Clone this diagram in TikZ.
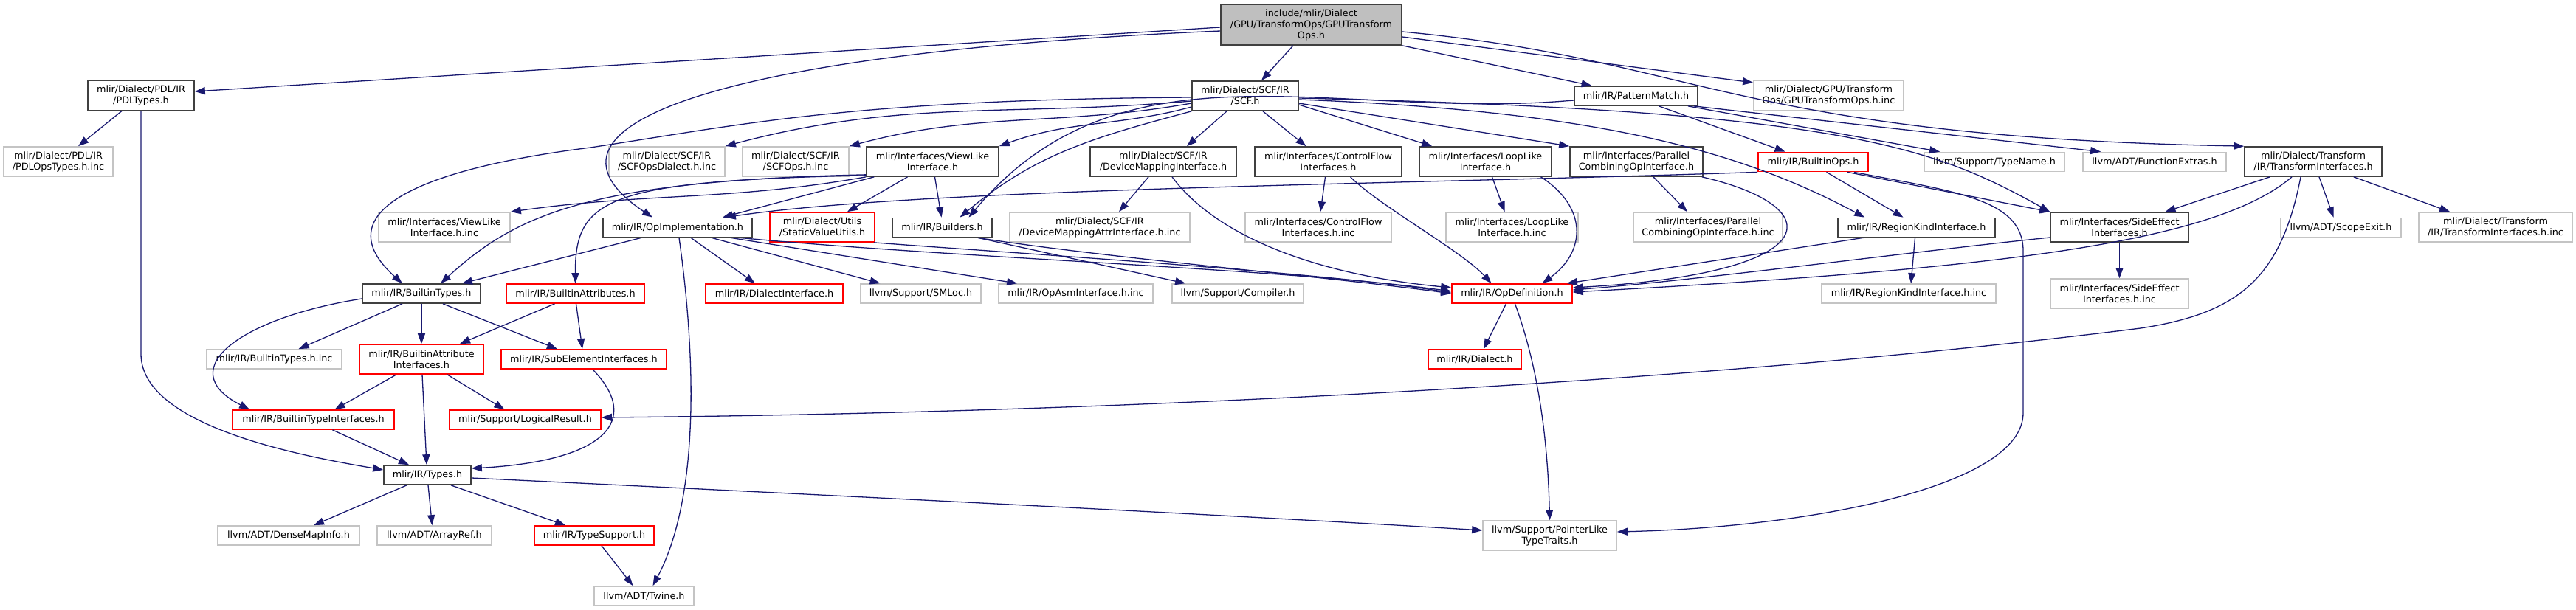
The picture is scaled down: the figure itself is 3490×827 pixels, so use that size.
\documentclass[tikz,border=0pt]{standalone}
\usepackage{fontspec}
\setmainfont{DejaVu Sans}
\usetikzlibrary{arrows.meta}
\definecolor{azulnoche}{HTML}{191970}
\definecolor{gris}{HTML}{404040}
\definecolor{grisclaro}{HTML}{C4C4C4}
\definecolor{rojo}{HTML}{FF0000}
\definecolor{relleno}{HTML}{BFBFBF}

\begin{document}
\begin{tikzpicture}[x=1pt, y=-1pt, font=\fontsize{12.8}{15}\selectfont,
    caja/.style={draw=gris, line width=1.7pt, inner sep=0pt, align=center, minimum height=26pt},
    cajagris/.style={caja, draw=grisclaro},
    cajaroja/.style={caja, draw=rojo},
    doble/.style={minimum height=40pt},
    ancho/.style={minimum width=#1pt},
    flecha/.style={draw=azulnoche, line width=1.3pt, -{Triangle[length=14pt,width=10pt]}}]
    \useasboundingbox (0,0) rectangle (3490,827);

    \node[caja, fill=relleno, ancho=245, minimum height=55pt] (root) at (1776.5,33.5) {include/mlir/Dialect\\/GPU/TransformOps/GPUTransform\\Ops.h};

    \node[caja, doble, ancho=144] (pdltypes) at (191,129.5) {mlir/Dialect/PDL/IR\\/PDLTypes.h};
    \node[caja, doble, ancho=144] (scf) at (1687,130) {mlir/Dialect/SCF/IR\\/SCF.h};
    \node[caja, ancho=167] (patmatch) at (2216.5,130) {mlir/IR/PatternMatch.h};
    \node[cajagris, doble, ancho=203] (gpuinc) at (2477.5,129.5) {mlir/Dialect/GPU/Transform\\Ops/GPUTransformOps.h.inc};

    \node[cajagris, doble, ancho=148] (pdlinc) at (79,219) {mlir/Dialect/PDL/IR\\/PDLOpsTypes.h.inc};
    \node[cajagris, doble, ancho=157] (scfdialectinc) at (903.5,219) {mlir/Dialect/SCF/IR\\/SCFOpsDialect.h.inc};
    \node[cajagris, doble, ancho=144] (scfopsinc) at (1078,219) {mlir/Dialect/SCF/IR\\/SCFOps.h.inc};
    \node[caja, doble, ancho=179] (viewlike) at (1263.5,219) {mlir/Interfaces/ViewLike\\Interface.h};
    \node[caja, doble, ancho=198] (devmap) at (1576,219) {mlir/Dialect/SCF/IR\\/DeviceMappingInterface.h};
    \node[caja, doble, ancho=199] (ctrlflow) at (1799.5,219) {mlir/Interfaces/ControlFlow\\Interfaces.h};
    \node[caja, doble, ancho=179] (looplike) at (2012.5,219) {mlir/Interfaces/LoopLike\\Interface.h};
    \node[caja, doble, ancho=180] (parallel) at (2217,219) {mlir/Interfaces/Parallel\\CombiningOpInterface.h};
    \node[cajaroja, ancho=149] (builtinops) at (2456.5,219.5) {mlir/IR/BuiltinOps.h};
    \node[cajagris, ancho=190] (typename) at (2702,219.5) {llvm/Support/TypeName.h};
    \node[cajagris, ancho=194] (funcextras) at (2919,219.5) {llvm/ADT/FunctionExtras.h};
    \node[caja, doble, ancho=186] (transform) at (3134,219) {mlir/Dialect/Transform\\/IR/TransformInterfaces.h};

    \node[cajagris, doble, ancho=178] (viewlikeinc) at (602,308) {mlir/Interfaces/ViewLike\\Interface.h.inc};
    \node[caja, ancho=202] (opimpl) at (918,308.5) {mlir/IR/OpImplementation.h};
    \node[cajaroja, doble, ancho=142] (staticval) at (1114,308) {mlir/Dialect/Utils\\/StaticValueUtils.h};
    \node[caja, ancho=135] (builders) at (1276.5,308.5) {mlir/IR/Builders.h};
    \node[cajagris, doble, ancho=244] (devmapinc) at (1490,308) {mlir/Dialect/SCF/IR\\/DeviceMappingAttrInterface.h.inc};
    \node[cajagris, doble, ancho=198] (ctrlflowinc) at (1786,308) {mlir/Interfaces/ControlFlow\\Interfaces.h.inc};
    \node[cajagris, doble, ancho=179] (looplikeinc) at (2048.5,308) {mlir/Interfaces/LoopLike\\Interface.h.inc};
    \node[cajagris, doble, ancho=202] (parallelinc) at (2314,308) {mlir/Interfaces/Parallel\\CombiningOpInterface.h.inc};
    \node[caja, ancho=213] (regionkind) at (2596.5,308.5) {mlir/IR/RegionKindInterface.h};
    \node[caja, doble, ancho=187] (sideeffect) at (2871.5,308) {mlir/Interfaces/SideEffect\\Interfaces.h};
    \node[cajagris, ancho=163] (scopeexit) at (3171.5,308.5) {llvm/ADT/ScopeExit.h};
    \node[cajagris, doble, ancho=208] (transforminc) at (3381,308) {mlir/Dialect/Transform\\/IR/TransformInterfaces.h.inc};

    \node[caja, ancho=160] (builtintypes) at (571,398) {mlir/IR/BuiltinTypes.h};
    \node[cajaroja, ancho=187] (builtinattrs) at (779.5,398) {mlir/IR/BuiltinAttributes.h};
    \node[cajaroja, ancho=186] (dialectiface) at (1049,398) {mlir/IR/DialectInterface.h};
    \node[cajagris, ancho=163] (smloc) at (1247.5,398) {llvm/Support/SMLoc.h};
    \node[cajagris, ancho=209] (opasminc) at (1457.5,398) {mlir/IR/OpAsmInterface.h.inc};
    \node[cajagris, ancho=178] (compiler) at (1677,398) {llvm/Support/Compiler.h};
    \node[cajaroja, ancho=163] (opdef) at (2048.5,398) {mlir/IR/OpDefinition.h};
    \node[cajagris, ancho=236] (regionkindinc) at (2586,398) {mlir/IR/RegionKindInterface.h.inc};
    \node[cajagris, doble, ancho=187] (sideeffectinc) at (2871.5,398) {mlir/Interfaces/SideEffect\\Interfaces.h.inc};

    \node[cajagris, ancho=183] (builtintypesinc) at (371.5,487) {mlir/IR/BuiltinTypes.h.inc};
    \node[cajaroja, doble, ancho=168] (battrifaces) at (571,487) {mlir/IR/BuiltinAttribute\\Interfaces.h};
    \node[cajaroja, ancho=224] (subelem) at (791,487) {mlir/IR/SubElementInterfaces.h};
    \node[cajaroja, ancho=126] (dialect) at (1998,487) {mlir/IR/Dialect.h};

    \node[cajaroja, ancho=219] (btypeifaces) at (424.5,569) {mlir/IR/BuiltinTypeInterfaces.h};
    \node[cajaroja, ancho=205] (logicalres) at (711.5,569) {mlir/Support/LogicalResult.h};
    \node[caja, ancho=118] (types) at (579,644) {mlir/IR/Types.h};

    \node[cajagris, ancho=192] (densemap) at (391,726) {llvm/ADT/DenseMapInfo.h};
    \node[cajagris, ancho=155] (arrayref) at (588.5,726) {llvm/ADT/ArrayRef.h};
    \node[cajaroja, ancho=162] (typesupport) at (805,726) {mlir/IR/TypeSupport.h};
    \node[cajagris, doble, ancho=181] (pointerlike) at (2099.5,726) {llvm/Support/PointerLike\\TypeTraits.h};
    \node[cajagris, ancho=135] (twine) at (872.5,808) {llvm/ADT/Twine.h};

    \draw[flecha] ([yshift=-3.5pt]root.west) -- ([yshift=5.5pt]pdltypes.east);
    \draw[flecha] ([xshift=-24.5pt]root.south) -- ([xshift=22pt]scf.north);
    \draw[flecha] ([yshift=-8.5pt]root.west) .. controls (1000,70) and (690,165) .. ([xshift=-34pt]opimpl.north);
    \draw[flecha] (root.south east) -- ([xshift=-60pt]patmatch.north);
    \draw[flecha] ([yshift=-16.5pt]root.east) -- ([yshift=17.5pt]gpuinc.west);
    \draw[flecha] ([yshift=-9.5pt]root.east) .. controls (2300,80) and (2350,185) .. (transform.north west);

    \draw[flecha] ([yshift=-7pt]scf.west) to[out=185,in=15] (scfdialectinc.north east);
    \draw[flecha] ([yshift=-10pt]scf.west) to[out=190,in=15] (scfopsinc.north east);
    \draw[flecha] ([yshift=-15pt]scf.west) to[out=195,in=20] (viewlike.north east);
    \draw[flecha] ([yshift=-2pt]scf.west) .. controls (1150,135) and (1000,170) .. (800,200)
        .. controls (560,230) and (440,290) .. ([xshift=-26pt]builtintypes.north);
    \draw[flecha] (scf.south west) to[out=195,in=40] ([xshift=24pt]builders.north);
    \draw[flecha] ([xshift=-25pt]scf.south) -- ([xshift=32pt]devmap.north);
    \draw[flecha] ([xshift=24pt]scf.south) -- ([xshift=-30pt]ctrlflow.north);
    \draw[flecha] ([yshift=-12pt]scf.east) -- ([xshift=18pt]looplike.north west);
    \draw[flecha] ([yshift=-10pt]scf.east) -- (parallel.north west);
    \draw[flecha] ([yshift=-5pt]scf.east) .. controls (2150,150) and (2350,200) .. ([xshift=37pt]regionkind.north west);
    \draw[flecha] ([yshift=-3pt]scf.east) .. controls (2500,150) and (2620,200) .. (sideeffect.north west);

    \draw[flecha] ([yshift=-6pt]patmatch.west) to[out=185,in=50] ([xshift=36pt]builders.north);
    \draw[flecha] ([xshift=31pt]patmatch.south) -- ([xshift=-38pt]builtinops.north);
    \draw[flecha] ([xshift=-14pt]patmatch.south east) -- ([xshift=22pt]typename.north west);
    \draw[flecha] ([xshift=-6pt]patmatch.south east) -- ([xshift=25pt]funcextras.north west);

    \draw[flecha] (viewlike.south west) to[out=190,in=8] (viewlikeinc.north east);
    \draw[flecha] ([xshift=11pt]viewlike.south west) -- ([xshift=61pt]opimpl.north);
    \draw[flecha] ([xshift=-34pt]viewlike.south) -- ([xshift=34pt]staticval.north);
    \draw[flecha] ([xshift=3pt]viewlike.south) -- ([xshift=-1pt]builders.north);
    \draw[flecha] ([yshift=3pt]viewlike.south west) .. controls (800,245) and (700,290) .. ([xshift=26pt]builtintypes.north);
    \draw[flecha] ([yshift=2pt]viewlike.south west) .. controls (820,245) and (779,270) .. (builtinattrs.north);

    \draw[flecha] ([xshift=-49pt]opimpl.south) -- ([xshift=55pt]builtintypes.north);
    \draw[flecha] ([xshift=18pt]opimpl.south) -- ([xshift=-26pt]dialectiface.north);
    \draw[flecha] ([xshift=46pt]opimpl.south) -- ([xshift=-55pt]smloc.north);
    \draw[flecha] ([xshift=-30pt]opimpl.south east) -- ([xshift=26pt]opasminc.north west);
    \draw[flecha] ([xshift=-18pt]opimpl.south east) .. controls (1300,350) and (1750,365) .. ([yshift=3pt]opdef.west);
    \draw[flecha] ([xshift=2pt]opimpl.south) .. controls (945,500) and (945,680) .. ([xshift=12pt]twine.north);

    \draw[flecha] ([xshift=-2pt]staticval.south east) .. controls (1400,345) and (1800,370) .. ([yshift=1pt]opdef.west);
    \draw[flecha] ([xshift=-20pt]builders.south east) .. controls (1500,350) and (1800,375) .. (opdef.west);
    \draw[flecha] ([xshift=-20pt]builders.south east) -- ([xshift=19pt]compiler.north west);
    \draw[flecha] ([xshift=-20pt]devmap.south) -- ([xshift=26pt]devmapinc.north);
    \draw[flecha] ([xshift=12pt]devmap.south) .. controls (1640,310) and (1760,370) .. ([yshift=8pt]opdef.west);
    \draw[flecha] ([xshift=-4pt]ctrlflow.south) -- ([xshift=3pt]ctrlflowinc.north);
    \draw[flecha] ([xshift=30pt]ctrlflow.south) .. controls (1870,280) and (1980,340) .. ([xshift=-28pt]opdef.north);
    \draw[flecha] ([xshift=9pt]looplike.south) -- ([xshift=-10pt]looplikeinc.north);
    \draw[flecha] ([xshift=75pt]looplike.south) .. controls (2150,280) and (2150,340) .. ([xshift=41pt]opdef.north);
    \draw[flecha] ([xshift=23pt]parallel.south) -- ([xshift=-28pt]parallelinc.north);
    \draw[flecha] ([xshift=-2pt]parallel.south east) .. controls (2480,280) and (2480,370) .. ([yshift=8pt]opdef.east);

    \draw[flecha] (builtinops.south west) .. controls (1900,250) and (1250,255) .. ([xshift=-37pt]opimpl.north east);
    \draw[flecha] ([xshift=18pt]builtinops.south) -- ([xshift=-18pt]regionkind.north);
    \draw[flecha] ([xshift=-29pt]builtinops.south east) -- (sideeffect.north west);
    \draw[flecha] ([xshift=-20pt]builtinops.south east) .. controls (2650,260) and (2741,270) .. (2741,340)
        -- (2741,560) .. controls (2741,660) and (2450,715) .. ([yshift=5pt]pointerlike.east);

    \draw[flecha] ([xshift=-2pt]regionkind.south) -- ([xshift=3pt]regionkindinc.north);
    \draw[flecha] ([xshift=-72pt]regionkind.south) -- ([xshift=-8pt]opdef.north east);
    \draw[flecha] (sideeffect.south) -- (sideeffectinc.north);
    \draw[flecha] ([yshift=-14pt]sideeffect.west) .. controls (2600,340) and (2300,380) .. ([yshift=5pt]opdef.east);

    \draw[flecha] ([xshift=35pt]transform.south west) -- ([xshift=62pt]sideeffect.north);
    \draw[flecha] ([xshift=-29pt]transform.south) .. controls (3000,330) and (2700,365) .. ([yshift=2pt]opdef.east);
    \draw[flecha] ([xshift=-17pt]transform.south) .. controls (3090,380) and (3030,425) .. (2900,445)
        .. controls (2300,520) and (1500,560) .. ([yshift=3pt]logicalres.east);
    \draw[flecha] ([xshift=8pt]transform.south) -- ([xshift=-10pt]scopeexit.north);
    \draw[flecha] ([xshift=-39pt]transform.south east) -- ([xshift=43pt]transforminc.north west);

    \draw[flecha] ([xshift=-8pt]opdef.south) -- ([xshift=12pt]dialect.north);
    \draw[flecha] ([xshift=4pt]opdef.south) .. controls (2085,500) and (2097,600) .. (pointerlike.north);

    \draw[flecha] ([xshift=-26pt]builtintypes.south) -- ([xshift=33pt]builtintypesinc.north);
    \draw[flecha] (builtintypes.south) -- (battrifaces.north);
    \draw[flecha] ([xshift=29pt]builtintypes.south) -- ([xshift=-36pt]subelem.north);
    \draw[flecha] ([yshift=-7pt]builtintypes.west) .. controls (330,430) and (230,500) .. ([xshift=24pt]btypeifaces.north west);
    \draw[flecha] ([xshift=-28pt]builtinattrs.south) -- ([xshift=52pt]battrifaces.north);
    \draw[flecha] ([xshift=1pt]builtinattrs.south) -- ([xshift=-2pt]subelem.north);
    \draw[flecha] ([xshift=-34pt]battrifaces.south) -- ([xshift=29pt]btypeifaces.north);
    \draw[flecha] ([xshift=35pt]battrifaces.south) -- ([xshift=-28pt]logicalres.north);
    \draw[flecha] ([xshift=1pt]battrifaces.south) -- ([xshift=-1pt]types.north);
    \draw[flecha] ([xshift=12pt]subelem.south) .. controls (870,570) and (820,625) .. ([yshift=9pt]types.east);
    \draw[flecha] ([xshift=26pt]btypeifaces.south) -- ([xshift=-25pt]types.north);

    \draw[flecha] ([xshift=47pt]pdltypes.south west) -- ([xshift=27pt]pdlinc.north);
    \draw[flecha] (pdltypes.south) -- (191,480) .. controls (191,580) and (420,620) .. ([yshift=7pt]types.west);

    \draw[flecha] ([xshift=-28pt]types.south) -- ([xshift=34pt]densemap.north);
    \draw[flecha] ([xshift=1pt]types.south) -- ([xshift=-3pt]arrayref.north);
    \draw[flecha] ([xshift=32pt]types.south) -- ([xshift=-39pt]typesupport.north);
    \draw[flecha] ([yshift=-4pt]types.east) .. controls (1100,670) and (1700,700) .. ([yshift=7pt]pointerlike.west);
    \draw[flecha] ([xshift=10pt]typesupport.south) -- ([xshift=-15pt]twine.north);
\end{tikzpicture}
\end{document}
